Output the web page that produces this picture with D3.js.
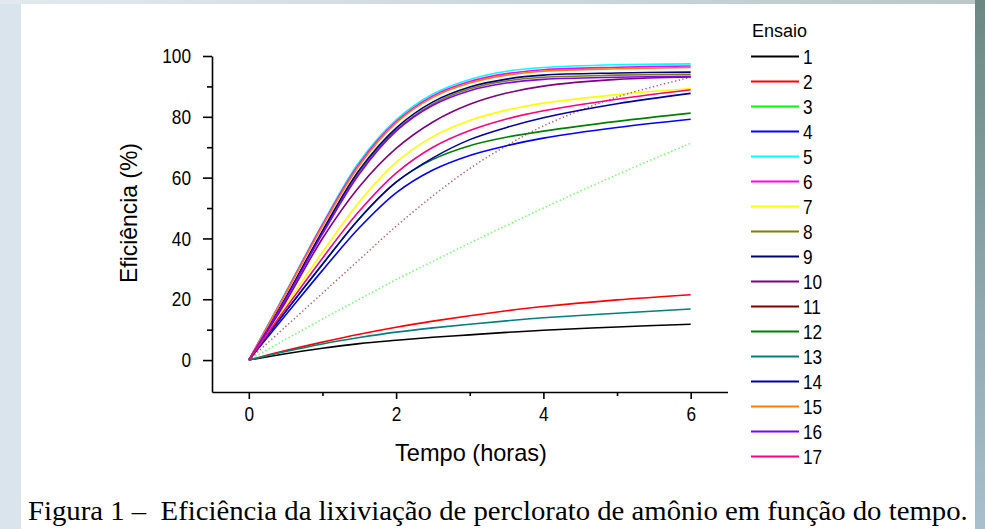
<!DOCTYPE html>
<html><head><meta charset="utf-8">
<script src="https://cdn.jsdelivr.net/npm/d3@7"></script>
<style>
html,body{margin:0;padding:0;background:#dae5ee;}
svg{display:block;}
</style>
</head><body>
<svg id="chart" width="985" height="529"></svg>
<script>
// ---- data ----
const tempo = [0, 0.5, 1, 1.5, 2, 2.5, 3, 3.5, 4, 5, 6];
const ensaios = ["1","2","3","4","5","6","7","8","9","10","11","12","13","14","15","16","17"];
const cores = ["#000000","#FF0000","#00FF00","#0000FF","#00FFFF","#FF00FF","#FFFF00","#808000",
               "#000080","#800080","#800000","#008000","#008080","#0000A0","#FF8000","#8000FF","#FF0080"];
const pontilhados = ["3","11"];

const ensaio1  = [0, 2.1, 3.9, 5.4, 6.5, 7.5, 8.3, 9.1, 9.8, 10.9, 11.8];
const ensaio2  = [0, 3.1, 5.9, 8.5, 10.8, 12.8, 14.6, 16.2, 17.6, 19.8, 21.5];
const ensaio3  = [0, 6.8, 13.5, 20, 26.5, 32.5, 38.5, 44.3, 50, 61, 71.3];
const ensaio4  = [0, 14.8, 29.5, 43.5, 55, 62.5, 67.3, 70.5, 73, 76.5, 79.2];
const ensaio5  = [0, 22.3, 44.8, 65.2, 79, 87.5, 92.3, 95, 96.2, 97.1, 97.4];
const ensaio6  = [0, 22, 44.5, 64.6, 78.4, 86.9, 91.6, 94.2, 95.5, 96.3, 96.7];
const ensaio7  = [0, 18, 35.5, 52, 65, 73.5, 78.8, 82.2, 84.5, 87.3, 89.3];
const ensaio8  = [0, 20.3, 42, 61.8, 75.6, 84.2, 89.2, 91.8, 93, 93.7, 94];
const ensaio9  = [0, 20.5, 42.5, 62.5, 76.3, 84.9, 89.8, 92.4, 93.7, 94.4, 94.7];
const ensaio10 = [0, 19.1, 40, 57, 69.6, 78.3, 84.1, 87.8, 90.1, 92.3, 93.1];
const ensaio11 = [0, 11, 22, 33, 44, 54, 63, 70.5, 77, 86.5, 93];
const ensaio12 = [0, 16, 31.5, 46.5, 58.5, 66, 70.5, 73.3, 75.3, 78.5, 81.2];
const ensaio13 = [0, 2.8, 5.3, 7.4, 9.2, 10.6, 11.8, 12.9, 13.9, 15.4, 16.8];
const ensaio14 = [0, 16, 31.5, 46.5, 58.5, 66.5, 72.5, 76.5, 79.7, 84.3, 87.7];
const ensaio15 = [0, 21.8, 44, 64, 78, 86.4, 91.1, 93.7, 95, 95.8, 96.2];
const ensaio16 = [0, 20, 41.5, 61.2, 75.3, 83.8, 88.6, 91.1, 92.3, 93, 93.3];
const ensaio17 = [0, 17, 33.5, 49, 61.5, 70, 75.5, 79.3, 82, 85.8, 88.9];

const xTicksMajor = [0, 2, 4, 6];
const xTicksMinor = [1, 3, 5];
const yTicksMajor = [0, 20, 40, 60, 80, 100];
const yTicksMinor = [10, 30, 50, 70, 90];

const valores = [ensaio1, ensaio2, ensaio3, ensaio4, ensaio5, ensaio6, ensaio7, ensaio8, ensaio9,
                 ensaio10, ensaio11, ensaio12, ensaio13, ensaio14, ensaio15, ensaio16, ensaio17];
const series = ensaios.map((nome, i) => ({
  nome, cor: cores[i], pont: pontilhados.includes(nome),
  pts: tempo.map((t, j) => ({t, v: valores[i][j]}))
}));

// ---- layout ----
const svg = d3.select("#chart");
const FONT = "'Liberation Sans', Arial, sans-serif";

// background
const defs = svg.append("defs");
const g1 = defs.append("linearGradient").attr("id","rgrad").attr("x1",0).attr("y1",0).attr("x2",0).attr("y2",1);
g1.append("stop").attr("offset","0%").attr("stop-color","#6d8883");
g1.append("stop").attr("offset","100%").attr("stop-color","#a9bfcd");
const g2 = defs.append("linearGradient").attr("id","tgrad").attr("x1",0).attr("y1",0).attr("x2",1).attr("y2",0);
g2.append("stop").attr("offset","0%").attr("stop-color","#e2eaf0");
g2.append("stop").attr("offset","100%").attr("stop-color","#b9c7c8");
svg.append("rect").attr("x",0).attr("y",0).attr("width",985).attr("height",529).attr("fill","#d9e4ed");
svg.append("rect").attr("x",0).attr("y",0).attr("width",985).attr("height",4).attr("fill","url(#tgrad)");
svg.append("rect").attr("x",975).attr("y",0).attr("width",10).attr("height",529).attr("fill","url(#rgrad)");
svg.append("rect").attr("x",21).attr("y",4).attr("width",954).attr("height",525).attr("fill","#ffffff");

const x = d3.scaleLinear().domain([-0.5, 6.5]).range([212, 727.5]);
const y = d3.scaleLinear().domain([-10.5, 100]).range([392, 56]);

function squeeze(node, k) {
  const xa = +node.getAttribute("x") || 0, ya = +node.getAttribute("y") || 0;
  node.setAttribute("transform", `translate(${xa},${ya}) scale(${k},1) translate(${-xa},${-ya})`);
}
function fitWidth(node, w) {
  const cw = node.getComputedTextLength();
  squeeze(node, w / cw);
}

// axes
svg.append("g").attr("transform","translate(212,0)")
  .call(d3.axisLeft(y).tickValues(yTicksMajor).tickSize(9).tickSizeOuter(0).tickPadding(12));
svg.append("g").attr("transform","translate(212,0)")
  .call(d3.axisLeft(y).tickValues(yTicksMinor).tickSize(5).tickSizeOuter(0).tickFormat(""))
  .select(".domain").remove();
svg.append("g").attr("transform","translate(0,392)")
  .call(d3.axisBottom(x).tickValues(xTicksMajor).tickFormat(d3.format("d")).tickSize(7).tickSizeOuter(0).tickPadding(7));
svg.append("g").attr("transform","translate(0,392)")
  .call(d3.axisBottom(x).tickValues(xTicksMinor).tickSize(4).tickSizeOuter(0).tickFormat(""))
  .select(".domain").remove();

svg.selectAll(".domain, .tick line").attr("stroke","#000").attr("stroke-width",1.6);
svg.selectAll(".tick text").attr("font-family",FONT).attr("font-size",21).attr("fill","#000")
  .each(function(){ squeeze(this, 0.82); });

// axis titles
const tx = svg.append("text").attr("x",471).attr("y",461).attr("text-anchor","middle")
  .attr("font-family",FONT).attr("font-size",23).attr("fill","#000").text("Tempo (horas)");
fitWidth(tx.node(), 152);
const ty = svg.append("g").attr("transform","translate(137,213) rotate(-90)");
const tyt = ty.append("text").attr("x",0).attr("y",0).attr("text-anchor","middle")
  .attr("font-family",FONT).attr("font-size",23).attr("fill","#000").text("Eficiência (%)");
fitWidth(tyt.node(), 140);

// lines
const line = d3.line().x(d => x(d.t)).y(d => y(d.v)).curve(d3.curveCatmullRom.alpha(0.5));
svg.append("g").selectAll("path").data(series).join("path")
  .attr("d", d => line(d.pts))
  .attr("fill","none")
  .attr("stroke", d => d.cor)
  .attr("stroke-width", d => d.pont ? 1.5 : 1.6)
  .attr("stroke-dasharray", d => d.pont ? "1.4,2.4" : null)
  .attr("stroke-opacity", d => d.pont ? 0.6 : 1);

// legend
svg.append("text").attr("x",752).attr("y",37).attr("font-family",FONT).attr("font-size",18)
  .attr("fill","#000").text("Ensaio");
const leg = svg.append("g").selectAll("g").data(series).join("g")
  .attr("transform", (d, i) => `translate(0,${56.5 + i * 25})`);
leg.append("line").attr("x1",751).attr("x2",799).attr("y1",0).attr("y2",0)
  .attr("stroke", d => d.cor).attr("stroke-width",1.8);
leg.append("text").attr("x",803).attr("y",7.5).attr("font-family",FONT).attr("font-size",21)
  .attr("fill","#000").text(d => d.nome).each(function(){ squeeze(this, 0.82); });

// caption
const cap = svg.append("text").attr("x",28).attr("y",520)
  .attr("font-family","'Liberation Serif', 'Times New Roman', serif").attr("font-size",28)
  .attr("fill","#000").style("white-space","pre")
  .text("Figura 1 –  Eficiência da lixiviação de perclorato de amônio em função do tempo.");
fitWidth(cap.node(), 940);
</script>
</body></html>
